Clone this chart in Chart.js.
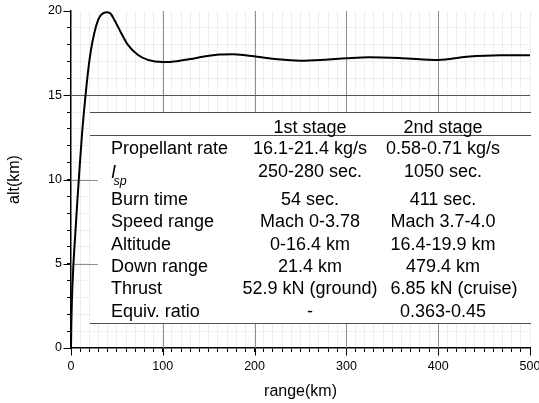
<!DOCTYPE html>
<html>
<head>
<meta charset="utf-8">
<script src="https://cdn.jsdelivr.net/npm/chart.js@4/dist/chart.umd.min.js"></script>
<style>
  html, body { margin: 0; padding: 0; background: #fff; }
  #wrap { width: 539px; height: 403px; }
</style>
</head>
<body>
<div id="wrap"><canvas id="altChart" width="539" height="403"></canvas></div>
<script>
// trajectory: range (km) vs altitude (km)
const rangeKm = [0, 0.4, 1, 2.5, 4.7, 7, 9, 12, 15.3, 19.2, 21.8, 25.4, 29.8, 33, 36.4, 39.5, 43, 47.3, 54.6, 61.8,
    72.7, 83.6, 100, 115, 130, 145, 162, 176, 190, 205, 225, 250, 275, 300, 325, 360, 400, 431, 468, 500];
const altKm = [0, 1.5, 2.85, 4.8, 6.8, 8.8, 10.4, 12.7, 14.7, 16.7, 17.7, 18.7, 19.5, 19.78, 19.9, 19.93, 19.85, 19.47, 18.7, 18.0,
    17.4, 17.1, 16.97, 17.02, 17.15, 17.3, 17.42, 17.44, 17.38, 17.27, 17.13, 17.05, 17.1, 17.19, 17.25, 17.2, 17.09, 17.28, 17.37, 17.37];

// spec table
const stageHeaders = ['1st stage', '2nd stage'];
const rowLabels = ['Propellant rate', 'Isp', 'Burn time', 'Speed range', 'Altitude', 'Down range', 'Thrust', 'Equiv. ratio'];
const stage1 = ['16.1-21.4 kg/s', '250-280 sec.', '54 sec.', 'Mach 0-3.78', '0-16.4 km', '21.4 km', '52.9 kN (ground)', '-'];
const stage2 = ['0.58-0.71 kg/s', '1050 sec.', '411 sec.', 'Mach 3.7-4.0', '16.4-19.9 km', '479.4 km', '6.85 kN (cruise)', '0.363-0.45'];

const FONT = '"Liberation Sans", Arial, sans-serif';
Chart.defaults.font.family = FONT;
Chart.defaults.color = '#000';

const points = rangeKm.map((r, i) => ({ x: r, y: altKm[i] }));

function hline(ctx, x1, x2, y) {
    ctx.beginPath(); ctx.moveTo(x1, y); ctx.lineTo(x2, y); ctx.stroke();
}
function vline(ctx, x, y1, y2) {
    ctx.beginPath(); ctx.moveTo(x, y1); ctx.lineTo(x, y2); ctx.stroke();
}

// major grid, the table box and its text, longer major ticks
const tablePlugin = {
    id: 'specTable',
    beforeDatasetsDraw(chart) {
        const { ctx, chartArea: a, scales: { x, y } } = chart;
        ctx.save();
        ctx.lineWidth = 1;
        ctx.strokeStyle = '#909090';
        [100, 200, 300, 400].forEach(v => {
            vline(ctx, Math.round(x.getPixelForValue(v)) + 0.5, a.top, a.bottom);
        });
        ctx.strokeStyle = '#555';
        hline(ctx, a.left, a.right, Math.round(y.getPixelForValue(15)) + 0.5);

        // table
        const left = 90, top = 112.5, bottom = 323.5;
        ctx.fillStyle = '#fff';
        ctx.fillRect(left, top, a.right - left + 1, bottom - top);
        ctx.strokeStyle = '#4d4d4d';
        hline(ctx, left, a.right + 1, top);
        hline(ctx, left, a.right + 1, 135.5);
        hline(ctx, left, a.right + 1, bottom);

        ctx.strokeStyle = '#909090';
        [5, 10].forEach(v => hline(ctx, a.left, 98, Math.round(y.getPixelForValue(v)) + 0.5));

        // major ticks
        ctx.strokeStyle = '#000';
        [0, 5, 10, 15, 20].forEach(v => hline(ctx, a.left - 7.5, a.left, Math.round(y.getPixelForValue(v)) + 0.5));
        [0, 100, 200, 300, 400, 500].forEach(v => vline(ctx, Math.round(x.getPixelForValue(v)) + 0.5, a.bottom, a.bottom + 7.5));

        const col1 = 310, col2 = 443, labelX = 111;
        const baselines = [154, 176.7, 204.8, 227.3, 249.5, 271.8, 294.2, 316.6];
        ctx.fillStyle = '#000';
        ctx.textBaseline = 'alphabetic';
        ctx.font = '18px ' + FONT;
        ctx.textAlign = 'center';
        ctx.fillText(stageHeaders[0], col1, 132.5);
        ctx.fillText(stageHeaders[1], col2, 132.5);
        rowLabels.forEach((lab, i) => {
            const b = baselines[i];
            ctx.textAlign = 'left';
            if (lab === 'Isp') {
                ctx.font = 'italic 18px ' + FONT;
                ctx.fillText('I', labelX, b + 1.6);
                ctx.font = 'italic 12.5px ' + FONT;
                ctx.fillText('sp', labelX + 2.5, b + 8.3);
                ctx.font = '18px ' + FONT;
            } else {
                ctx.fillText(lab, labelX, b);
            }
            ctx.textAlign = 'center';
            ctx.fillText(stage1[i], col1, b);
            ctx.fillText(stage2[i], i === 6 ? col2 + 11 : col2, b);
        });
        ctx.restore();
    }
};

const GRID_MINOR = '#dedede';

new Chart('altChart', {
    type: 'line',
    data: {
        datasets: [{
            data: points,
            borderColor: '#000',
            borderWidth: 2,
            pointRadius: 0,
            fill: false,
            cubicInterpolationMode: 'monotone'
        }]
    },
    options: {
        responsive: false,
        animation: false,
        layout: { padding: { top: 11, right: 9, left: 0, bottom: 0 } },
        plugins: { legend: { display: false }, tooltip: { enabled: false } },
        scales: {
            x: {
                type: 'linear',
                min: 0,
                max: 500,
                afterFit(s) { s.height = 55; s.paddingLeft = 0; s.paddingRight = 0; },
                ticks: {
                    stepSize: 10,
                    autoSkip: false,
                    maxRotation: 0,
                    padding: 7,
                    font: { size: 12.5 },
                    callback: v => (v % 100 === 0 ? String(v) : '')
                },
                grid: {
                    color: c => (c.tick && c.tick.value === 0) ? 'rgba(0,0,0,0)' : GRID_MINOR,
                    lineWidth: 1, tickLength: 4, tickColor: '#000', tickWidth: 1
                },
                border: { color: '#000', width: 1.5, dash: [1, 1] },
                title: { display: true, text: 'range(km)', font: { size: 16 }, padding: { top: 0, bottom: 1.5 } }
            },
            y: {
                min: 0,
                max: 20,
                afterFit(s) { s.width = 71; s.paddingTop = 0; s.paddingBottom = 0; },
                ticks: {
                    stepSize: 1,
                    autoSkip: false,
                    padding: 5,
                    font: { size: 12.5 },
                    callback: v => (v % 5 === 0 ? String(v) : '')
                },
                grid: {
                    color: c => (c.tick && (c.tick.value === 0 || c.tick.value === 20)) ? 'rgba(0,0,0,0)' : GRID_MINOR,
                    lineWidth: 1, tickLength: 4, tickColor: '#000', tickWidth: 1
                },
                border: { color: '#000', width: 1.5, dash: [1, 1] },
                title: { display: true, text: 'alt(km)', font: { size: 16 }, padding: { top: 5, bottom: 0 } }
            }
        }
    },
    plugins: [tablePlugin]
});
</script>
</body>
</html>
